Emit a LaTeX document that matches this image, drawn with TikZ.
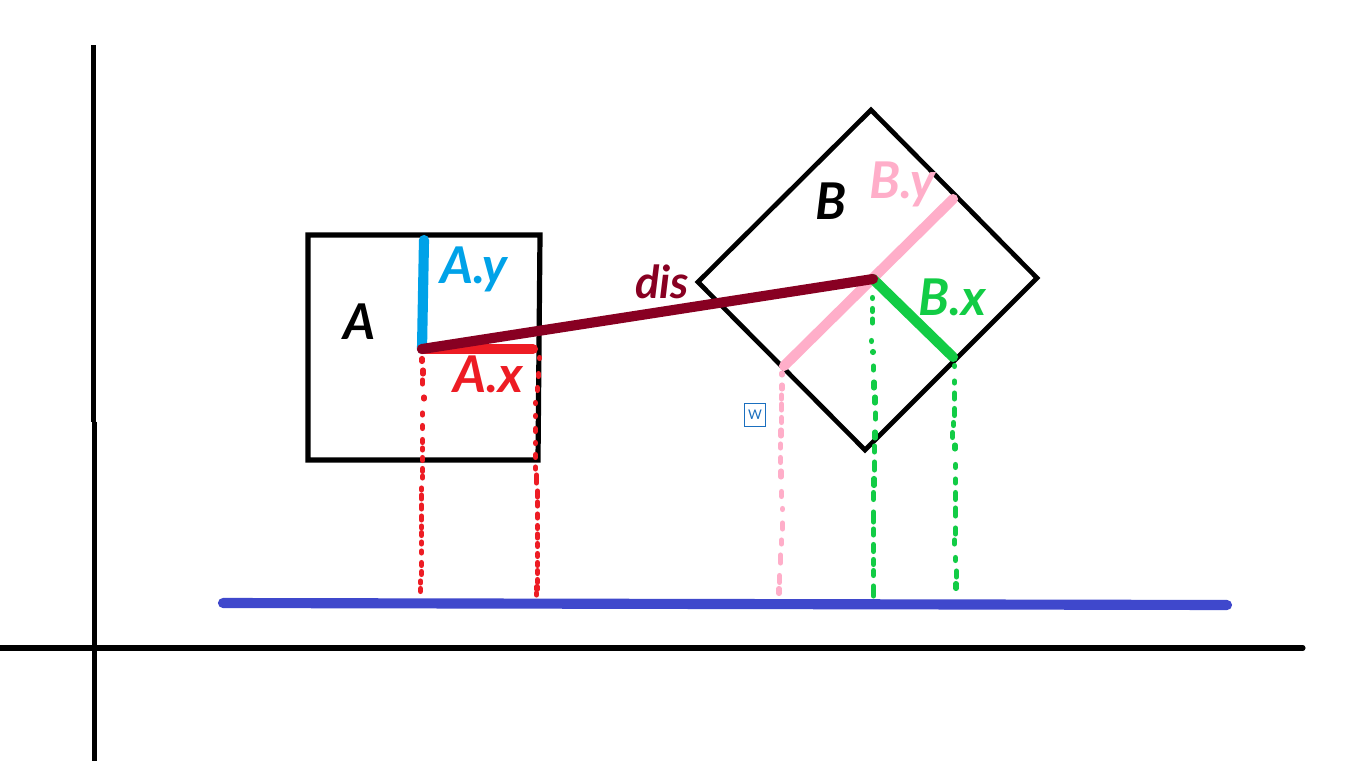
\documentclass[tikz,border=0pt]{standalone}
\usepackage{fontspec}
\setmainfont{Lato}
\definecolor{ablue}{HTML}{00A2E8}
\definecolor{ared}{HTML}{ED1C24}
\definecolor{bpink}{HTML}{FFAEC9}
\definecolor{bgreen}{HTML}{12CC45}
\definecolor{disred}{HTML}{880022}
\definecolor{baseblue}{HTML}{3F48CC}
\definecolor{wblue}{HTML}{1A6FBF}
\tikzset{
  axisline/.style={draw=black,line width=3.8pt},
  boxline/.style={draw=black,line width=3.9pt,line join=miter},
  diamondline/.style={draw=black,line width=3.5pt,line join=miter},
  heavy stroke/.style={line width=7.6pt,line cap=round},
  dotmark/.style={line width=3.8pt,line cap=round},
  hand/.style={font=\fontsize{38pt}{38pt}\selectfont\itshape\bfseries,inner sep=0pt},
}
\begin{document}
\begin{tikzpicture}[x=0.75pt,y=-0.75pt]
\useasboundingbox (0,0) rectangle (1372,761);
\fill[white] (0,0) rectangle (1372,761);
% axes
\coordinate (yt) at (93.3,45); \coordinate (ym) at (93.3,421.5); \coordinate (ym2) at (94.7,421.5); \coordinate (yb) at (94.7,760.5);
\coordinate (xl) at (0,648); \coordinate (xr) at (1303,648);
\draw[axisline] (yt) -- (ym); \draw[axisline] (ym2) -- (yb);
\draw[axisline,line cap=round] (xl) -- (xr);
% baseline
\coordinate (bl) at (223,603); \coordinate (br) at (1227,605);
\draw[baseblue,heavy stroke] (bl) -- (br);
% box A
\draw[boxline] (308,235) -- (540,235) -- (538,460) -- (308,460) -- cycle;
% box B
\draw[diamondline] (871,110) -- (1037,278) -- (865,450) -- (698,282) -- cycle;
% hand-dotted projection lines
\foreach \x/\y/\l in {422/360/1.5,423/372/2,422.5/382/2,424/398/1,422.5/414/1,422.5/427/1.5,422.5/441/1.5,422.5/449/1,422.5/459/1.5,422.5/470/1.5,422.5/477/1,421.5/489/1,421.5/497/2,421.5/507/2,421.5/518/2,421.5/527/1,421.5/534/1.5,421.5/543/1,421.5/552/1,421.5/564/1.5,421.5/573/1.5,420.5/582/1,420.5/590/1.5}
  \draw[ared,dotmark] (\x,\y-\l) -- (\x,\y+\l);
\foreach \x/\y/\l in {539.5/358/0.5,538.5/375/1.5,537.5/389/1.5,535.5/403/0.5,535.5/416/0.5,535.5/430/1.5,535.5/443/0.5,535.5/456/1.5,535.5/468/1,536.5/479/4,537.5/494/3,537.5/504/2,537.5/516/2,537.5/527/1.5,537.5/536/2,537.5/545/1.5,537.5/555/1.5,537.5/564/1.5,537.5/572/1.5,537.5/581/1.5,537/588/1.5,536.5/594/1}
  \draw[ared,dotmark] (\x,\y-\l) -- (\x,\y+\l);
\foreach \x/\y/\l in {782/374/1,782/387/2,781.5/397/2,781.5/407/3,781.5/420/2.5,781/433/3,780.5/446/2,780.5/460/2.5,781/474/3,781.5/494/2.5,782.5/509/0.5,782.5/526/3,781.5/542/2,780.5/559/4,779.5/579/3.5,779/591/2.5}
  \draw[bpink,dotmark] (\x,\y-\l) -- (\x,\y+\l);
\foreach \x/\y/\l in {872.5/298/0.5,872.5/310/1.5,872.5/321/2,871.5/341/0.5,873/352/0.5,873.5/368/2,874/385/3,875/400/3,875.5/416/3,875/435/3,874.5/449/3,874.5/466/4,874/482/3.5,873.5/496/3.5,873.5/517/5,873.5/532/3,873.5/548/3.5,873.5/562/2.5,873.5/573/2.5,873.5/591/5}
  \draw[bgreen,dotmark] (\x,\y-\l) -- (\x,\y+\l);
\foreach \x/\y/\l in {954.5/366/0.5,954.5/382/1,954.5/396/3,954.5/412/3.5,953.5/424/1.5,952.5/435/2.5,955/447/2,955.5/466/1.5,955.5/481/2,955.5/496/3.5,955.5/512/4,955.5/531/3,954.5/542/2,955.5/559/1.5,956.5/574/3,956/586/2.5}
  \draw[bgreen,dotmark] (\x,\y-\l) -- (\x,\y+\l);
% strokes
\coordinate (a) at (422,349); \coordinate (ay) at (424,240); \coordinate (ax) at (533,349);
\coordinate (c) at (873,279); \coordinate (by) at (953,199); \coordinate (bq) at (784,366); \coordinate (bx) at (953,357);
\draw[ablue,heavy stroke] (ay) -- (a);
\draw[ared,heavy stroke] (a) -- (ax);
\draw[bpink,heavy stroke] (by) -- (bq);
\draw[bgreen,heavy stroke] (c) -- (bx);
\draw[disred,heavy stroke] (a) -- (c);
% labels
\node[hand,text=black,font=\fontsize{37pt}{37pt}\selectfont\itshape\bfseries] (la) at (360,322) {A};
\node[hand,text=ablue] (lay) at (474,269) {A.y};
\node[hand,text=ared] (lax) at (488,374) {A.x};
\node[hand,text=black] (lb) at (831,201) {B};
\node[hand,text=bpink] (lby) at (902,184) {B.y};
\node[hand,text=bgreen] (lbx) at (952,297) {B.x};
\node[hand,text=disred,font=\fontsize{34pt}{34pt}\selectfont\itshape\bfseries] (ldis) at (662,282) {dis};
% W icon
\node[draw=wblue,line width=1.1pt,fill=white,minimum width=15.5pt,minimum height=17.5pt,inner sep=0pt,text=wblue,font=\fontsize{10pt}{10pt}\selectfont] (w) at (755,415) {W};
\end{tikzpicture}
\end{document}
